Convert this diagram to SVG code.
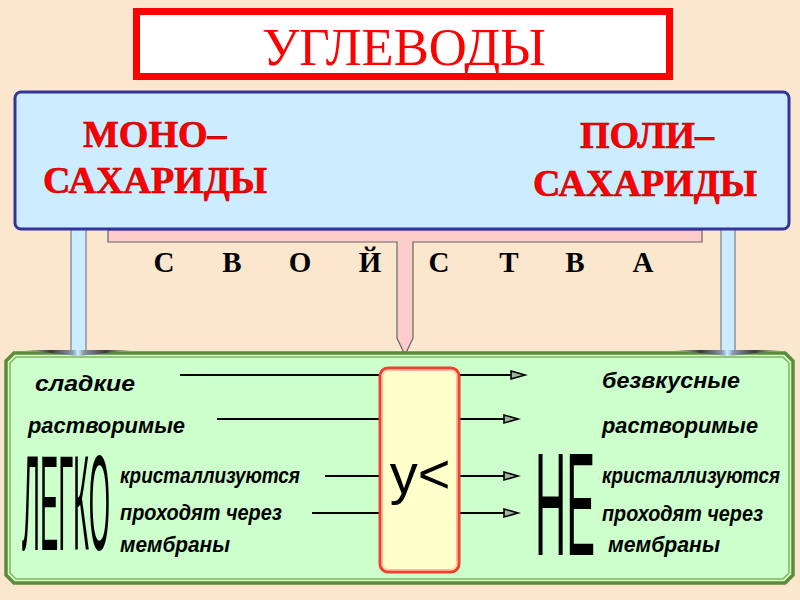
<svg xmlns="http://www.w3.org/2000/svg" width="800" height="600" viewBox="0 0 800 600">
<defs>
<style>
.red{font-family:"Liberation Serif","Times New Roman",serif;font-weight:bold;fill:#FF0000;stroke:#B00000;stroke-width:0.6}
.sv{font-family:"Liberation Serif","Times New Roman",serif;font-weight:bold;font-size:29px;fill:#000;text-anchor:middle}
.it{font-family:"Liberation Sans",Arial,sans-serif;font-weight:bold;font-style:italic;font-size:22px;fill:#000}
.big{font-family:"Liberation Sans",Arial,sans-serif;fill:#000}
.ln{stroke:#000;stroke-width:2;fill:none}
.ar{stroke:#000;stroke-width:2;fill:none;marker-end:url(#tri)}
.bar{fill:#CCECFF;stroke:#666677;stroke-width:1}
</style>
<linearGradient id="ah" x1="0" y1="0" x2="1" y2="0">
<stop offset="0" stop-color="#E6DACA"/>
<stop offset="0.25" stop-color="#3A3A3A"/>
<stop offset="0.45" stop-color="#8899AA"/>
<stop offset="0.5" stop-color="#CCECFF"/>
<stop offset="0.55" stop-color="#8899AA"/>
<stop offset="0.75" stop-color="#3A3A3A"/>
<stop offset="1" stop-color="#E6DACA"/>
</linearGradient>
<marker id="tri" markerUnits="userSpaceOnUse" markerWidth="18" markerHeight="12" refX="15" refY="5" orient="auto">
<path d="M1,1 L15,5 L1,9 Z" fill="#9FB59F" stroke="#000" stroke-width="1.6"/>
</marker>
</defs>
<rect x="0" y="0" width="800" height="600" fill="#FAE7CE"/>

<g id="title">
<rect x="136.5" y="11.5" width="533" height="65" fill="#FFFFFF" stroke="#FF0000" stroke-width="7"/>
<text x="262" y="65" textLength="284" lengthAdjust="spacingAndGlyphs" font-family="Liberation Serif,'Times New Roman',serif" font-size="52" fill="#FF0000">УГЛЕВОДЫ</text>
</g>

<g id="connectors">
<path d="M108,230 H702 V242 H413 V338 L405,355 L397,338 V242 H108 Z" fill="#FFCCCC" stroke="#666666" stroke-width="1.2"/>
<rect class="bar" x="71" y="226" width="15" height="126"/>
<rect class="bar" x="721" y="226" width="14" height="126"/>
</g>

<g id="types">
<rect x="15" y="92" width="774" height="137" rx="6" fill="#CCECFF" stroke="#333399" stroke-width="3"/>
<text class="red" x="83" y="147" font-size="38">МОНО–</text>
<text class="red" x="43" y="193" font-size="38">САХАРИДЫ</text>
<text class="red" x="580" y="148" font-size="38">ПОЛИ–</text>
<text class="red" x="533" y="196" font-size="38">САХАРИДЫ</text>
</g>

<g id="svoistva">
<text class="sv" x="164" y="272">С</text>
<text class="sv" x="232" y="272">В</text>
<text class="sv" x="300" y="272">О</text>
<text class="sv" x="370" y="272">Й</text>
<text class="sv" x="439" y="272">С</text>
<text class="sv" x="509" y="272">Т</text>
<text class="sv" x="575" y="272">В</text>
<text class="sv" x="643" y="272">А</text>
</g>

<g id="properties">
<polygon points="14,353 785,353 793,361 793,575 785,583 14,583 6,575 6,361" fill="#CCFFCC" stroke="#5E8A3C" stroke-width="3.5"/>
<polygon points="16,357 783,357 789,363 789,573 783,579 16,579 10,573 10,363" fill="none" stroke="#86B45C" stroke-width="1.5"/>
<text class="it" x="35" y="391" textLength="100" lengthAdjust="spacingAndGlyphs">сладкие</text>
<text class="it" x="28" y="433" textLength="157" lengthAdjust="spacingAndGlyphs">растворимые</text>
<text class="it" x="120" y="483" textLength="180" lengthAdjust="spacingAndGlyphs">кристаллизуются</text>
<text class="it" x="120" y="520" textLength="162" lengthAdjust="spacingAndGlyphs">проходят через</text>
<text class="it" x="120" y="552" textLength="110" lengthAdjust="spacingAndGlyphs">мембраны</text>
<text class="big" transform="translate(22,550) scale(1,4.5)" x="0" y="0" font-size="30" textLength="88" lengthAdjust="spacingAndGlyphs">ЛЕГКО</text>
<text class="it" x="602" y="388" textLength="138" lengthAdjust="spacingAndGlyphs">безвкусные</text>
<text class="it" x="602" y="433" textLength="156" lengthAdjust="spacingAndGlyphs">растворимые</text>
<text class="it" x="602" y="483" textLength="178" lengthAdjust="spacingAndGlyphs">кристаллизуются</text>
<text class="it" x="602" y="521" textLength="161" lengthAdjust="spacingAndGlyphs">проходят через</text>
<text class="it" x="608" y="552" textLength="112" lengthAdjust="spacingAndGlyphs">мембраны</text>
<text class="big" transform="translate(535,555) scale(1,4.9)" x="0" y="0" font-size="30" textLength="60" lengthAdjust="spacingAndGlyphs">НЕ</text>
</g>

<g id="arrowheads">
<polygon points="23,350 133,350 78.5,356" fill="url(#ah)"/>
<polygon points="673,350 782,350 728,356" fill="url(#ah)"/>
</g>

<g id="lines">
<line class="ln" x1="180" y1="375" x2="381" y2="375"/>
<line class="ln" x1="217" y1="419" x2="381" y2="419"/>
<line class="ln" x1="325" y1="476" x2="381" y2="476"/>
<line class="ln" x1="312" y1="513" x2="381" y2="513"/>
<line class="ar" x1="458" y1="375" x2="525" y2="375"/>
<line class="ar" x1="458" y1="419" x2="518" y2="419"/>
<line class="ar" x1="458" y1="476" x2="518" y2="476"/>
<line class="ar" x1="458" y1="513" x2="518" y2="513"/>
</g>

<g id="compare">
<rect x="380" y="368" width="79" height="204" rx="8" fill="#FFFFCC" stroke="#F04030" stroke-width="3"/>
<rect x="382.5" y="370.5" width="74" height="199" rx="6" fill="none" stroke="#FFB8A8" stroke-width="1"/>
<text class="big" x="420" y="493" font-size="56" text-anchor="middle">у&lt;</text>
</g>
</svg>
